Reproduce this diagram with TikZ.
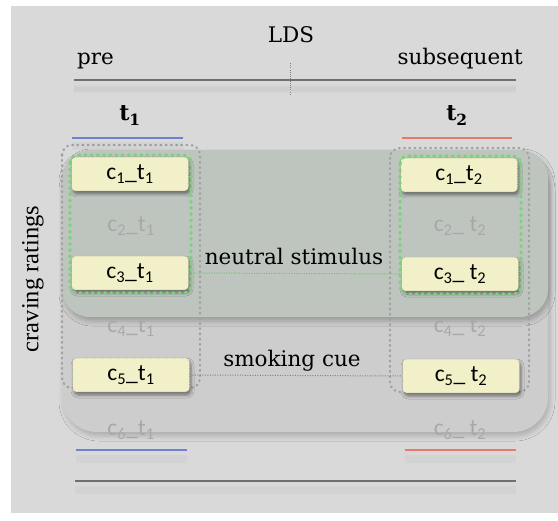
\documentclass[tikz,border=0pt]{standalone}
\usepackage{fontspec}
\usetikzlibrary{shadows,shadows.blur}
\newfontfamily\nodefont{Carlito}
\newfontfamily\timesfont{Liberation Serif}
\newfontfamily\lblfont{DejaVu Serif}
\definecolor{bgc}{HTML}{D9D9D9}
\definecolor{smokefill}{HTML}{CDCDCD}
\definecolor{neutralfill}{HTML}{BEC5BF}
\definecolor{boxfill}{HTML}{F2F0C8}
\definecolor{boxline}{HTML}{9A9A90}
\definecolor{ghostgray}{HTML}{A8A8A8}
\definecolor{coldot}{HTML}{A0A0A0}
\definecolor{greendot}{HTML}{78D478}
\definecolor{greenline}{HTML}{55D055}
\definecolor{darkline}{HTML}{6F6F6F}
\definecolor{blueline}{HTML}{6E80D0}
\definecolor{redline}{HTML}{E8786A}
\tikzset{
  lbl/.style={inner sep=0pt, font=\lblfont\fontsize{21.5}{26}\selectfont},
  box/.style={rounded corners=4pt, fill=boxfill, draw=boxline, densely dotted, line width=0.6pt,
    minimum width=117pt, minimum height=34pt, inner sep=0pt,
    font=\nodefont\fontsize{23.5}{27}\selectfont,
    blur shadow={shadow xshift=1.5pt, shadow yshift=-3pt, shadow blur radius=3pt, shadow opacity=45}},
  ghost/.style={text=ghostgray, inner sep=0pt, font=\nodefont\fontsize{23.5}{27}\selectfont},
  coldots/.style={draw=coldot, line width=2.4pt, line cap=round, dash pattern=on 0.6pt off 4.6pt, rounded corners=10pt},
  greendots/.style={draw=greendot, line width=3.2pt, line cap=round, dash pattern=on 0.8pt off 5.4pt, rounded corners=8pt},
  greenconn/.style={draw=greenline, line width=1pt, dash pattern=on 1pt off 1.5pt},
  grayconn/.style={draw=gray, line width=1pt, dash pattern=on 1pt off 1.5pt},
  lineshadow/.style={line width=8pt, black, opacity=0.025},
}
\begin{document}
\begin{tikzpicture}[x=1pt,y=-1pt]
\useasboundingbox (0,0) rectangle (558,521);
\fill[bgc] (11,6) rectangle (558,513);

% regions
\path[fill=smokefill, rounded corners=35pt,
  blur shadow={shadow xshift=2pt, shadow yshift=-4pt, shadow blur radius=5pt, shadow opacity=20}]
  (62,152) rectangle (548,432);
\path[fill=neutralfill, rounded corners=28pt,
  blur shadow={shadow xshift=2pt, shadow yshift=-4pt, shadow blur radius=5pt, shadow opacity=25}]
  (62,150) rectangle (548,317);

% column groups
\draw[coldots] (62,145) rectangle (200,388);
\draw[coldots] (390,148) rectangle (529,392);

% time line
\draw[lineshadow] (74,89) -- (516,89);
\draw[lineshadow, line width=4pt] (74,89) -- (516,89);
\draw[darkline, line width=1.5pt] (74,80) -- (516,80);
\draw[gray, line width=1pt, dash pattern=on 1pt off 1.2pt] (290,63) -- (290,95);

\node[lbl, anchor=base] (lds) at (291,43) {LDS};
\node[lbl, anchor=base west] (pre) at (77,65) {pre};
\node[lbl, anchor=base east] (subs) at (523,65) {subsequent};
\node[lbl, anchor=base, font=\lblfont\fontsize{22}{26}\selectfont\bfseries] (t1) at (130,121) {t\textsubscript{1}};
\node[lbl, anchor=base, font=\lblfont\fontsize{22}{26}\selectfont\bfseries] (t2) at (457,121) {t\textsubscript{2}};

% coloured bars
\draw[lineshadow] (72,146) -- (183,146);
\draw[blueline, line width=1.3pt] (72,138) -- (183,138);
\draw[redline, line width=1.3pt] (402,138) -- (512,138);
\draw[lineshadow] (76,459) -- (187,459);
\draw[lineshadow] (405,459) -- (516,459);
\draw[blueline, line width=1.3pt] (76,450) -- (187,450);
\draw[redline, line width=1.3pt] (405,450) -- (516,450);
\draw[lineshadow] (75,490) -- (516,490);
\draw[darkline, line width=1.5pt] (75,481) -- (516,481);

% craving ratings
\node[rotate=90, inner sep=0pt, font=\timesfont\fontsize{24.5}{28}\selectfont] (cr) at (33,279) {craving ratings};

% ghost ratings
\node[ghost] (a2) at (131,226) {c\textsubscript{2}\_t\textsubscript{1}};
\node[ghost] (a4) at (131,327) {c\textsubscript{4}\_t\textsubscript{1}};
\node[ghost] (a6) at (131,430) {c\textsubscript{6}\_t\textsubscript{1}};
\node[ghost] (b2) at (460,226) {c\textsubscript{2}\_ t\textsubscript{2}};
\node[ghost] (b4) at (460,327) {c\textsubscript{4}\_ t\textsubscript{2}};
\node[ghost] (b6) at (460,430) {c\textsubscript{6}\_ t\textsubscript{2}};

% rating boxes
\node[box] (a1) at (130,174) {c\textsubscript{1}\_t\textsubscript{1}};
\node[box] (a3) at (130,273) {c\textsubscript{3}\_t\textsubscript{1}};
\node[box] (a5) at (131,375) {c\textsubscript{5}\_t\textsubscript{1}};
\node[box] (b1) at (459,175) {c\textsubscript{1}\_t\textsubscript{2}};
\node[box] (b3) at (460,274) {c\textsubscript{3}\_ t\textsubscript{2}};
\node[box] (b5) at (461,376) {c\textsubscript{5}\_ t\textsubscript{2}};

% green groups
\draw[greendots] (70,155) rectangle (191,293);
\draw[greendots] (400,156) rectangle (521,294);

% connectors
\draw[greenconn] (a3.east) -- (b3.west);
\draw[grayconn] (a5.east) -- (b5.west);

\node[lbl, anchor=base] (ns) at (294,265) {neutral stimulus};
\node[lbl, anchor=base] (sc) at (292,367) {smoking cue};
\end{tikzpicture}
\end{document}
